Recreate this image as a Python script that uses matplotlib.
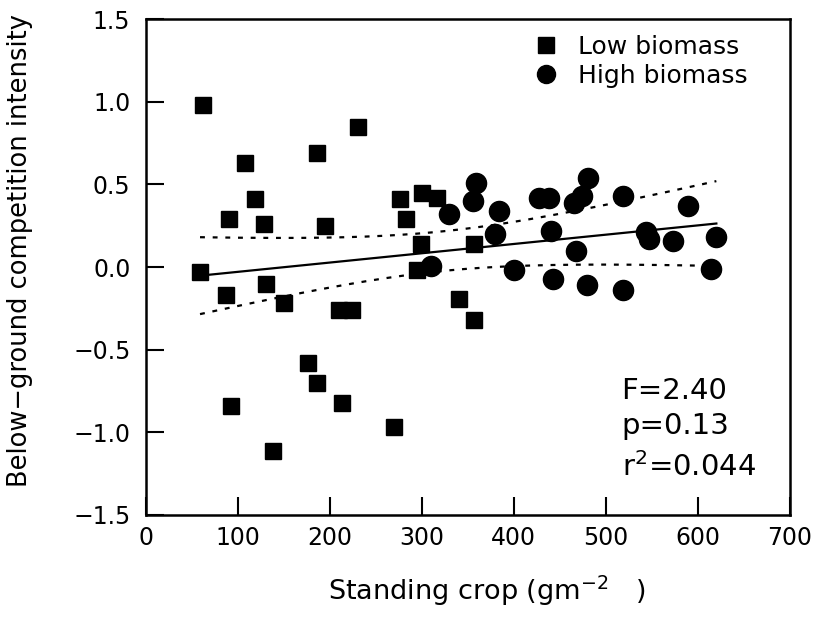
import numpy as np
import matplotlib
matplotlib.use("Agg")
import matplotlib.pyplot as plt
from matplotlib.ticker import FuncFormatter
from matplotlib.lines import Line2D

plt.rcParams['font.family'] = ['DejaVu Sans']
plt.rcParams['mathtext.fontset'] = 'dejavusans'

# Low biomass sites (squares)
low_x = [62, 231, 186, 108, 119, 90, 128, 195, 276, 300, 317, 283, 299, 59, 87,
         131, 150, 210, 224, 176, 186, 93, 213, 270, 138, 295, 357, 340, 357]
low_y = [0.98, 0.85, 0.69, 0.63, 0.41, 0.29, 0.26, 0.25, 0.41, 0.45, 0.42, 0.29, 0.14,
         -0.03, -0.17, -0.10, -0.22, -0.26, -0.26, -0.58, -0.70, -0.84, -0.82, -0.97,
         -1.11, -0.02, 0.14, -0.19, -0.32]
# High biomass sites (circles)
high_x = [329, 310, 359, 356, 384, 380, 400, 427, 438, 440, 443, 481, 465, 474, 467,
          479, 519, 519, 544, 547, 573, 589, 620, 614]
high_y = [0.32, 0.005, 0.51, 0.40, 0.34, 0.20, -0.02, 0.42, 0.42, 0.22, -0.07, 0.54,
          0.39, 0.43, 0.10, -0.11, 0.43, -0.14, 0.21, 0.17, 0.16, 0.37, 0.18, -0.01]

stats_lines = ["F=2.40", "p=0.13", "r$^2$=0.044"]
stats_y = [-0.80, -1.01, -1.265]
stats_x = 517
x_ticks = [0, 100, 200, 300, 400, 500, 600, 700]
y_ticks = [-1.5, -1.0, -0.5, 0.0, 0.5, 1.0, 1.5]

# regression through all points with 95% confidence band
xa = np.array(low_x + high_x, float)
ya = np.array(low_y + high_y, float)
n = len(xa)
b, a = np.polyfit(xa, ya, 1)
resid = ya - (a + b * xa)
s = np.sqrt(np.sum(resid ** 2) / (n - 2))
sxx = np.sum((xa - xa.mean()) ** 2)
t = 2.007
xl = np.linspace(min(xa), max(xa), 200)
yl = a + b * xl
half = t * s * np.sqrt(1.0 / n + (xl - xa.mean()) ** 2 / sxx)

fig = plt.figure(figsize=(8.2, 6.21), dpi=100)
ax = fig.add_axes([0.1777, 0.1707, 0.7857, 0.7983])

ax.plot(xl, yl, color='black', lw=1.6, zorder=2)
ax.plot(xl, yl + half, color='black', lw=1.6, ls=(0, (2.2, 3.5)), zorder=2)
ax.plot(xl, yl - half, color='black', lw=1.6, ls=(0, (2.2, 3.5)), zorder=2)

ax.plot(low_x, low_y, ls='none', marker='s', ms=12, color='black', zorder=3)
ax.plot(high_x, high_y, ls='none', marker='o', ms=14.5, color='black', zorder=3)

ax.set_xlim(0, 700)
ax.set_ylim(-1.5, 1.5)
ax.set_xticks(x_ticks)
ax.set_yticks(y_ticks)
ax.yaxis.set_major_formatter(FuncFormatter(lambda v, p: ('%.1f' % v).replace('-', '\u2212')))
ax.tick_params(direction='in', length=13, width=1.5, labelsize=17,
               top=False, right=False)
ax.tick_params(axis='x', pad=8)
ax.tick_params(axis='y', pad=11)
for sp in ax.spines.values():
    sp.set_linewidth(1.8)

ax.set_xlabel('Standing crop (gm$^{-2}$   )', fontsize=19.5)
ax.xaxis.set_label_coords(0.529, -0.118)
ax.set_ylabel('Below\u2212ground competition intensity', fontsize=18.5)
ax.yaxis.set_label_coords(-0.175, 0.534)

handles = [Line2D([], [], ls='none', marker='s', ms=11, color='black'),
           Line2D([], [], ls='none', marker='o', ms=13, color='black')]
ax.legend(handles, ['Low biomass', 'High biomass'], loc='upper left',
          bbox_to_anchor=(0.583, 0.993), frameon=False, fontsize=18,
          handlelength=1.0, handletextpad=0.75, labelspacing=0.2, borderpad=0)

for txt, yy in zip(stats_lines, stats_y):
    ax.text(stats_x, yy, txt, fontsize=21, va='baseline', ha='left')

fig.savefig('out.png', dpi=100)
